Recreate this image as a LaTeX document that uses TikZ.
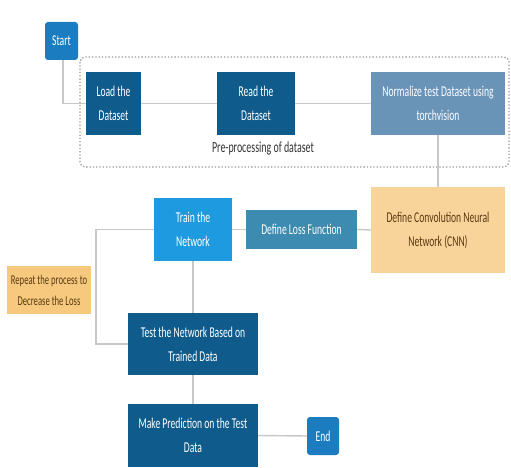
\documentclass[tikz,border=0pt]{standalone}
\usepackage{fontspec}
\setmainfont{Carlito}[FakeStretch=0.64]
\definecolor{startblue}{HTML}{1B7DC0}
\definecolor{navy}{HTML}{0F5C8C}
\definecolor{steel}{HTML}{6A93B8}
\definecolor{lightorange}{HTML}{F8D39A}
\definecolor{orangebox}{HTML}{F6C97E}
\definecolor{teal}{HTML}{3D8BB0}
\definecolor{brightblue}{HTML}{1E9BE0}
\definecolor{linegray}{HTML}{C8C8C8}
\definecolor{browntext}{HTML}{5A3A12}
\tikzset{
  box/.style={draw=none, minimum width=#1, align=center, inner sep=2pt, text=white, font=\fontsize{15}{24}\selectfont},
  conn/.style={draw=linegray, line width=1.4pt},
}
\begin{document}
\begin{tikzpicture}[x=1pt,y=-1pt]
\useasboundingbox[fill=white] (0,0) rectangle (511,468);
% dotted group
\draw[gray!80, dotted, line width=1.3pt, rounded corners=5pt] (80,57) rectangle (509,167);
\node[box=33pt, minimum height=38pt, fill=startblue, rounded corners=3pt] (start) at (61.5,41) {Start};
\node[box=55pt, minimum height=63pt, fill=navy] (load) at (113.5,103.5) {Load the\\Dataset};
\node[box=78pt, minimum height=63pt, fill=navy] (read) at (256,103.5) {Read the\\Dataset};
\node[box=134pt, minimum height=63pt, fill=steel] (norm) at (438,103.5) {Normalize test Dataset using\\torchvision};
\node[text=black!80, font=\fontsize{15.5}{17}\selectfont] (prelabel) at (263,148) {Pre-processing of dataset};
\node[box=134pt, minimum height=86pt, fill=lightorange, text=browntext] (cnn) at (438,230) {Define Convolution Neural\\Network (CNN)};
\node[box=111pt, minimum height=39pt, fill=teal] (loss) at (301.5,229.5) {Define Loss Function};
\node[box=78pt, minimum height=63pt, fill=brightblue] (train) at (193,229.5) {Train the\\Network};
\node[box=84pt, minimum height=48pt, fill=orangebox, text=browntext, font=\fontsize{13.5}{21}\selectfont] (repeat) at (49,290) {Repeat the process to\\Decrease the Loss};
\node[box=130pt, minimum height=62pt, fill=navy] (test) at (193,344) {Test the Network Based on\\Trained Data};
\node[box=130pt, minimum height=63pt, fill=navy] (make) at (193,435.5) {Make Prediction on the Test\\Data};
\node[box=32pt, minimum height=38pt, fill=startblue, rounded corners=3pt] (end) at (323,436) {End};
\coordinate (loopx) at (96,229.5);
\draw[conn] ([xshift=1.5pt]start.south) |- (load.west);
\draw[conn] (load.east) -- (read.west);
\draw[conn] (read.east) -- (norm.west);
\draw[conn] (norm.south) -- (cnn.north);
\draw[conn] (cnn.west) -- (loss.east);
\draw[conn] (loss.west) -- (train.east);
\draw[conn] (train.west) -- (loopx) |- (test.west);
\draw[conn] (train.south) -- (test.north);
\draw[conn] (test.south) -- (make.north);
\draw[conn] (make.east) -- (end.west);
\end{tikzpicture}
\end{document}
